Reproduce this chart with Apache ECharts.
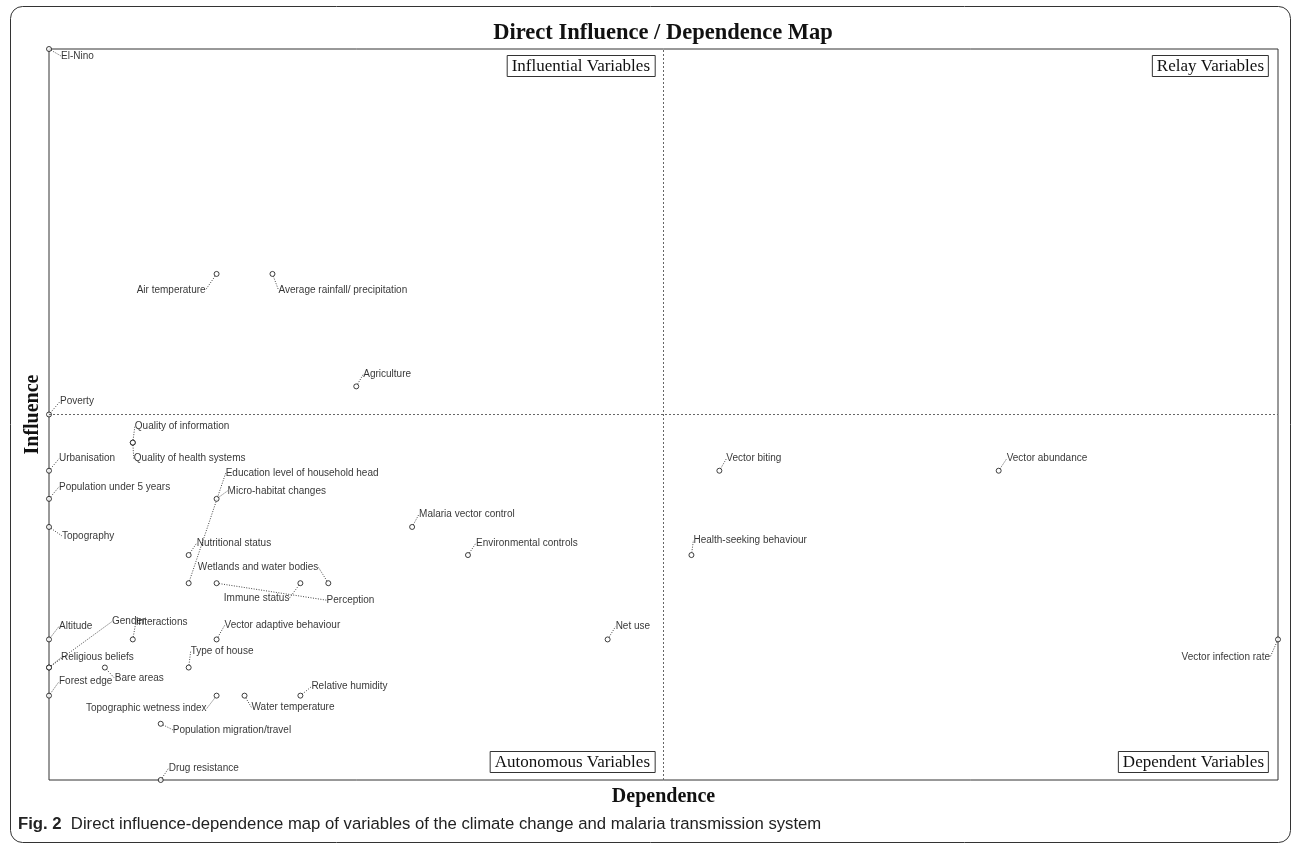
<!DOCTYPE html>
<html><head><meta charset="utf-8">
<script src="https://cdn.jsdelivr.net/npm/echarts@6/dist/echarts.min.js"></script>
<style>html,body{margin:0;padding:0;background:#fff}#c{width:1292px;height:846px}</style>
</head><body><div id="c"></div>
<script>
// ---- data ----
const names = [
  'El-Nino','Air temperature','Average rainfall/ precipitation','Agriculture','Poverty',
  'Quality of information','Quality of health systems','Urbanisation','Population under 5 years','Topography',
  'Education level of household head','Micro-habitat changes','Nutritional status','Malaria vector control','Environmental controls',
  'Wetlands and water bodies','Immune status','Perception','Altitude','Gender',
  'Religious beliefs','Interactions','Vector adaptive behaviour','Type of house','Bare areas',
  'Forest edge','Topographic wetness index','Water temperature','Relative humidity','Population migration/travel',
  'Drug resistance','Net use','Vector biting','Vector abundance','Health-seeking behaviour',
  'Vector infection rate'
];
const dependence = [0,6,8,11,0, 3,3,0,0,0, 5,6,5,13,15, 10,9,6,0,0, 0,3,6,5,2, 0,6,7,9,4, 4,20,24,34,23, 44];
const influence  = [26,18,18,14,13, 12,12,11,10,9, 7,10,8,9,8, 7,7,7,5,4, 4,5,5,4,4, 3,3,3,3,2, 0,5,11,11,8, 5];
const dependenceMean = 22;
const influenceMean = 13;
const dependenceRange = [0, 44];
const influenceRange = [0, 26];
const quadrantNames = ['Influential Variables', 'Relay Variables', 'Autonomous Variables', 'Dependent Variables'];
const chartTitle = 'Direct Influence / Dependence Map';
const xName = 'Dependence';
const yName = 'Influence';
const captionBold = 'Fig. 2';
const captionText = 'Direct influence-dependence map of variables of the climate change and malaria transmission system';

// ---- label placement (style only): [dx, dy, align] relative to the point ----
const labelPlacement = {
  'El-Nino': [12, 7, 'left'],
  'Air temperature': [-11, 16, 'right'],
  'Average rainfall/ precipitation': [6, 16, 'left'],
  'Agriculture': [7, -12, 'left'],
  'Poverty': [11, -13, 'left'],
  'Quality of information': [2, -16, 'left'],
  'Quality of health systems': [1, 16, 'left'],
  'Urbanisation': [10, -12, 'left'],
  'Population under 5 years': [10, -12, 'left'],
  'Topography': [13, 9, 'left'],
  'Education level of household head': [37, -110, 'left'],
  'Micro-habitat changes': [11, -8, 'left'],
  'Nutritional status': [8, -12, 'left'],
  'Malaria vector control': [7, -13, 'left'],
  'Environmental controls': [8, -12, 'left'],
  'Wetlands and water bodies': [-10, -16, 'right'],
  'Immune status': [-11, 15, 'right'],
  'Perception': [110, 17, 'left'],
  'Altitude': [10, -13, 'left'],
  'Gender': [63, -46, 'left'],
  'Religious beliefs': [12, -10, 'left'],
  'Interactions': [3, -17, 'left'],
  'Vector adaptive behaviour': [8, -14, 'left'],
  'Type of house': [2, -16, 'left'],
  'Bare areas': [10, 11, 'left'],
  'Forest edge': [10, -14, 'left'],
  'Topographic wetness index': [-10, 13, 'right'],
  'Water temperature': [7, 12, 'left'],
  'Relative humidity': [11, -9, 'left'],
  'Population migration/travel': [12, 6, 'left'],
  'Drug resistance': [8, -12, 'left'],
  'Net use': [8, -13, 'left'],
  'Vector biting': [7, -12, 'left'],
  'Vector abundance': [8, -12, 'left'],
  'Health-seeking behaviour': [2, -15, 'left'],
  'Vector infection rate': [-8, 18, 'right']
};

const points = names.map((n, i) => ({ name: n, value: [dependence[i], influence[i]] }));

const serif = "'Liberation Serif', 'DejaVu Serif', serif";
const sans = "'Liberation Sans', Arial, sans-serif";

function boxTitle(text, pos) {
  return Object.assign({
    text: text,
    borderColor: '#333', borderWidth: 1, padding: [3, 5, 2, 5],
    textStyle: { fontFamily: serif, fontSize: 17, fontWeight: 'normal', color: '#111' }
  }, pos);
}

const chart = echarts.init(document.getElementById('c'), null, { renderer: 'canvas' });
chart.setOption({
  backgroundColor: '#fff',
  animation: false,
  title: [
    { text: chartTitle, left: 658, top: 17, textAlign: 'center',
      textStyle: { fontFamily: serif, fontSize: 22.5, fontWeight: 'bold', color: '#111' } },
    boxTitle(quadrantNames[0], { right: 637, top: 55 }),
    boxTitle(quadrantNames[1], { right: 23, top: 55 }),
    boxTitle(quadrantNames[2], { right: 637, bottom: 73 }),
    boxTitle(quadrantNames[3], { right: 23, bottom: 73 })
  ],
  graphic: [
    { type: 'rect', silent: true, z: -1,
      shape: { x: 10.5, y: 6.5, width: 1280, height: 836, r: 12 },
      style: { fill: 'none', stroke: '#333', lineWidth: 1 } },
    { type: 'text', left: 18, top: 816, silent: true,
      style: { text: '{b|' + captionBold + '}  ' + captionText,
        font: "16.7px 'Liberation Sans', Arial, sans-serif", fill: '#222',
        rich: { b: { fontWeight: 'bold', fontSize: 16.7, fontFamily: sans, fill: '#222' } } } }
  ],
  grid: { left: 49, right: 14, top: 49, bottom: 66, show: true, borderColor: '#333', borderWidth: 1, containLabel: false },
  xAxis: {
    type: 'value', min: dependenceRange[0], max: dependenceRange[1],
    axisLine: { show: false }, axisTick: { show: false }, axisLabel: { show: false }, splitLine: { show: false },
    name: xName, nameLocation: 'middle', nameGap: 7,
    nameTextStyle: { fontFamily: serif, fontSize: 20, fontWeight: 'bold', color: '#111' }
  },
  yAxis: {
    type: 'value', min: influenceRange[0], max: influenceRange[1],
    axisLine: { show: false }, axisTick: { show: false }, axisLabel: { show: false }, splitLine: { show: false },
    name: yName, nameLocation: 'middle', nameGap: 6,
    nameTextStyle: { fontFamily: serif, fontSize: 20, fontWeight: 'bold', color: '#111' }
  },
  series: [{
    type: 'scatter',
    clip: false,
    symbol: 'circle', symbolSize: 5,
    itemStyle: { color: '#fff', borderColor: '#111', borderWidth: 1 },
    data: points,
    label: {
      show: true, position: 'inside', formatter: '{b}',
      fontFamily: sans, fontSize: 10, color: '#000'
    },
    labelLine: { show: true, lineStyle: { color: '#444', width: 1, type: [1, 1.5] } },
    labelLayout: function (p) {
      const pl = labelPlacement[names[p.dataIndex]] || [8, -12, 'left'];
      const cx = p.rect.x + p.rect.width / 2;
      const cy = p.rect.y + p.rect.height / 2;
      return { x: cx + pl[0], y: cy + pl[1], align: pl[2], verticalAlign: 'middle' };
    },
    markLine: {
      silent: true, symbol: 'none', label: { show: false },
      lineStyle: { color: '#666', width: 1, type: [2, 2] },
      data: [{ xAxis: dependenceMean }, { yAxis: influenceMean }]
    },
    z: 3
  }]
});
</script>
</body></html>
